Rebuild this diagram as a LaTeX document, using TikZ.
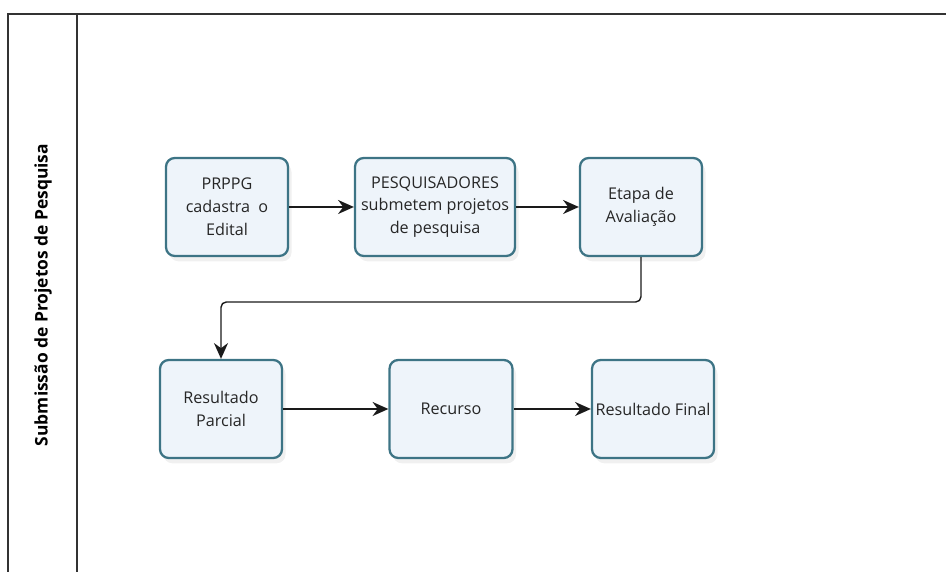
\documentclass[tikz,border=0pt]{standalone}
\usepackage{fontspec}
\setmainfont{Open Sans}
\usetikzlibrary{arrows.meta, positioning, calc, shadows}
\definecolor{edgecol}{HTML}{3D7485}
\definecolor{fillcol}{HTML}{EEF4FA}
\definecolor{linecol}{HTML}{1A1A1A}

\begin{document}
\begin{tikzpicture}[
    every node/.style={font=\fontsize{9.2}{13}\selectfont},
    lane/.style={font=\bfseries\fontsize{9.9}{11}\selectfont, text=black},
    task/.style={rectangle, rounded corners=5pt, draw=edgecol, fill=fillcol,
                 line width=1.3pt, minimum height=1.96cm, align=center,
                 inner sep=1pt, text=black!85,
                 drop shadow={opacity=0.12, shadow xshift=2pt, shadow yshift=-3pt}},
    flow/.style={-{Stealth[length=9pt, width=8pt]}, linecol, line width=0.8pt},
]
\useasboundingbox (0,0) rectangle (18.92,11.44);

% ================================================ pool and lane
\draw[black!80, line width=0.8pt] (0.16,0) -- (0.16,11.16) -- (18.92,11.16);
\draw[black!80, line width=0.8pt] (1.54,0) -- (1.54,11.16);
\node[lane, rotate=90] (title) at (0.86,5.54) {Submissão de Projetos de Pesquisa};

% ================================================ first row
\node[task, minimum width=2.44cm] (edital) at (4.54,7.30) {PRPPG\\cadastra\ \ o\\Edital};
\node[task, minimum width=3.20cm] (submete) at (8.70,7.30) {PESQUISADORES\\submetem projetos\\de pesquisa};
\node[task, minimum width=2.44cm] (avalia) at (12.82,7.30) {Etapa de\\Avaliação};

% ================================================ second row
\node[task, minimum width=2.44cm] (parcial) at (4.42,3.26) {Resultado\\Parcial};
\node[task, minimum width=2.46cm] (recurso) at (9.02,3.26) {Recurso};
\node[task, minimum width=2.44cm] (final) at (13.06,3.26) {Resultado Final};

% ================================================ connectors
\draw[flow] (edital) -- (submete);
\draw[flow] (submete) -- (avalia);
\coordinate (bend) at (0,5.40);
\draw[flow, rounded corners=3pt] (avalia.south) -- (avalia.south |- bend)
    -- (parcial.north |- bend) -- (parcial.north);
\draw[flow] (parcial) -- (recurso);
\draw[flow] (recurso) -- (final);

\end{tikzpicture}
\end{document}
